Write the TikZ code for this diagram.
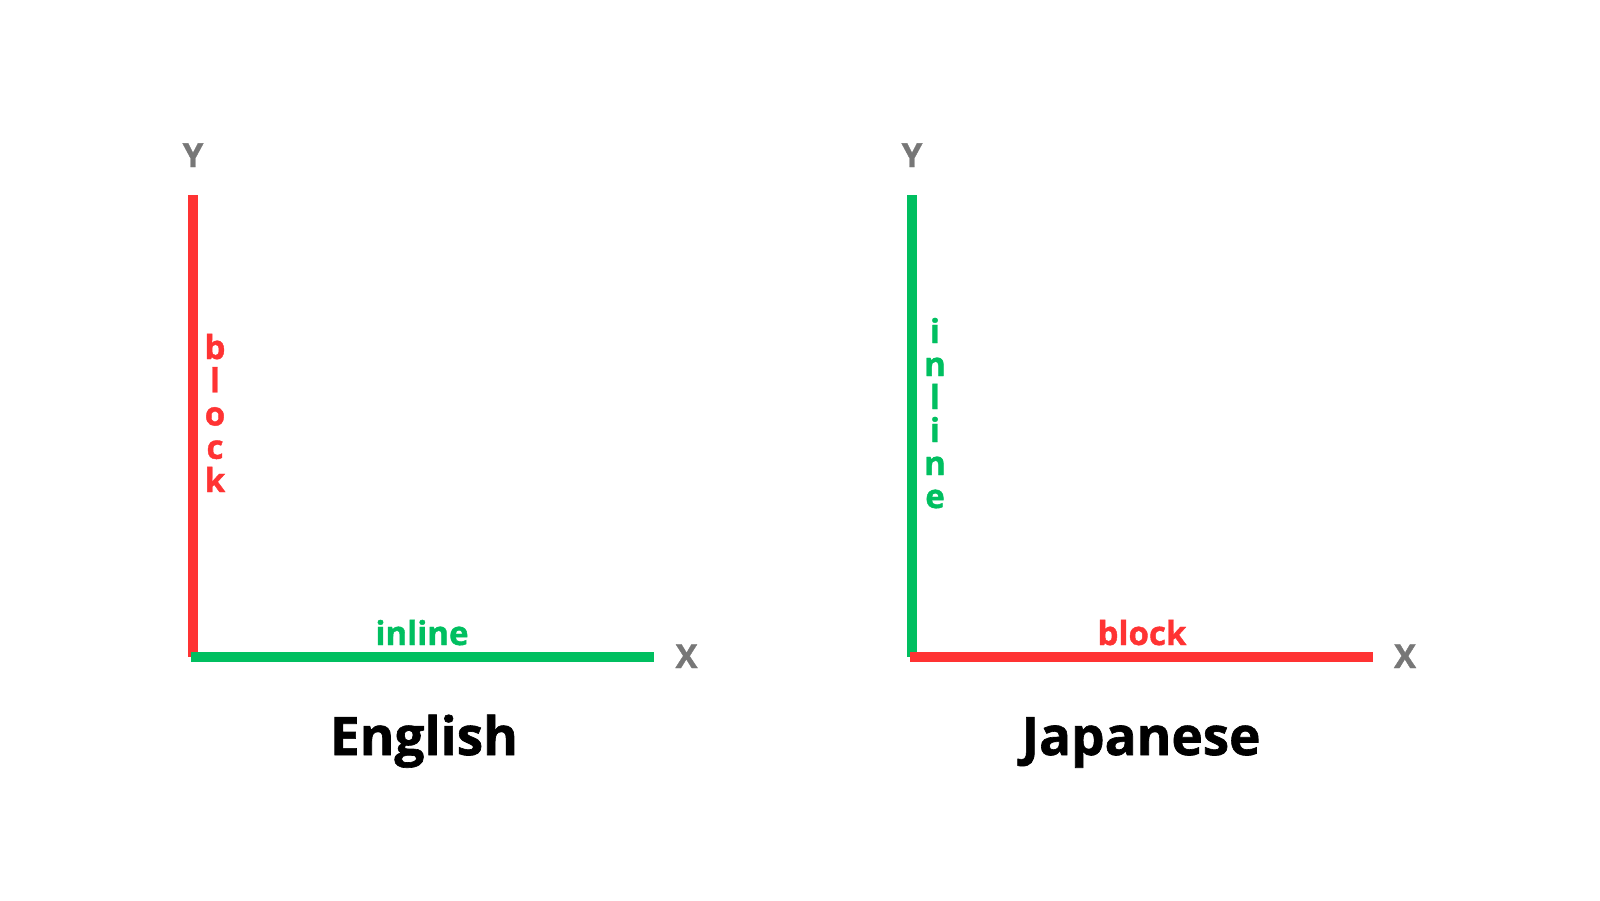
\documentclass[tikz,border=0pt]{standalone}
\usepackage{fontspec}
\setmainfont{Open Sans}[BoldFeatures={FakeBold=1.2}]
\definecolor{axred}{HTML}{FF3333}
\definecolor{axgreen}{HTML}{00BF60}
\definecolor{axgray}{HTML}{777777}
\tikzset{
  axis/.style={line width=10pt, line cap=butt},
  lbl/.style={inner sep=0pt, anchor=base, font=\fontsize{33}{33}\selectfont\bfseries},
  ttl/.style={inner sep=0pt, anchor=base, font=\fontsize{53}{53}\selectfont\bfseries, text=black},
}
\begin{document}
\begin{tikzpicture}[x=1pt,y=-1pt]
\useasboundingbox (0,0) rectangle (1600,900);
% English
\coordinate (LY) at (193,195);
\coordinate (LO) at (193,657);
\coordinate (LS) at (191,656.5);
\coordinate (LX) at (654,656.5);
\draw[axis, axred] (LY) -- (LO);
\draw[axis, axgreen] (LS) -- (LX);
\node[lbl, text=axgray] (ly) at (193,167) {Y};
\node[lbl, text=axgray] (lx) at (686.5,668) {X};
\node[lbl, text=axgreen] (linl) at (422,645) {inline};
\foreach \c [count=\i] in {b,l,o,c,k}
  \node[lbl, text=axred] (lb\i) at (215,{359+33.25*(\i-1)}) {\c};
\node[ttl] (en) at (424,755) {English};
% Japanese
\coordinate (RY) at (912,195);
\coordinate (RO) at (912,657);
\coordinate (RS) at (910,656.5);
\coordinate (RX) at (1372.5,656.5);
\draw[axis, axgreen] (RY) -- (RO);
\draw[axis, axred] (RS) -- (RX);
\node[lbl, text=axgray] (ry) at (912,167) {Y};
\node[lbl, text=axgray] (rx) at (1405,668) {X};
\node[lbl, text=axred] (rblk) at (1142,645) {block};
\foreach \c [count=\i] in {i,n,l,i,n,e}
  \node[lbl, text=axgreen] (ri\i) at (935,{343+33*(\i-1)}) {\c};
\node[ttl] (ja) at (1141,755) {Japanese};
\end{tikzpicture}
\end{document}
